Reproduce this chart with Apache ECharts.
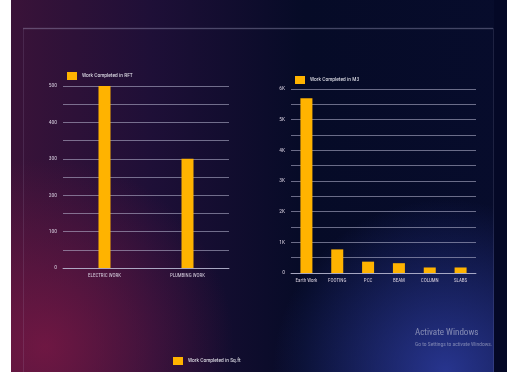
<!DOCTYPE html>
<html>
<head>
<meta charset="utf-8">
<style>
html,body{margin:0;padding:0;background:#fff;}
#c{width:507px;height:372px;}
</style>
<script src="https://cdn.jsdelivr.net/npm/echarts@6/dist/echarts.min.js"></script>
</head>
<body>
<div id="c"></div>
<script>
// Data
var rftCategories = ['ELECTRIC WORK', 'PLUMBING WORK'];
var rftValues = [500, 300];
var m3Categories = ['Earth Work', 'FOOTING', 'PCC', 'BEAM', 'COLUMN', 'SLABS'];
var m3Values = [5700, 770, 370, 320, 180, 180];
var sqftValues = [];
var rftTicks = [0, 100, 200, 300, 400, 500];
var m3Ticks = ['0', '1K', '2K', '3K', '4K', '5K', '6K'];

var chart = echarts.init(document.getElementById('c'));
var FONT = "'Liberation Sans Narrow', 'Roboto Condensed', Roboto, sans-serif";
var gridLine = {lineStyle: {color: 'rgba(190,190,215,0.55)', width: 1}};
var barColor = '#FFB300';

var option = {
  animation: false,
  graphic: [
    {type: 'rect', shape: {x: 0, y: 0, width: 507, height: 372}, style: {fill: {
      type: 'linear', x: 0, y: 0, x2: 1, y2: 0,
      colorStops: [
        {offset: 0, color: '#3c1339'},
        {offset: 0.3, color: '#1e0f37'},
        {offset: 0.6, color: '#060b27'},
        {offset: 1, color: '#070c2c'}
      ]}}, z: -10},
    {type: 'rect', shape: {x: 0, y: 120, width: 300, height: 252}, style: {fill: {
      type: 'radial', x: 0.15, y: 0.9, r: 0.75,
      colorStops: [
        {offset: 0, color: 'rgba(130,25,70,0.75)'},
        {offset: 1, color: 'rgba(130,25,70,0)'}
      ]}}, z: -9},
    {type: 'rect', shape: {x: 200, y: 180, width: 307, height: 192}, style: {fill: {
      type: 'radial', x: 0.8, y: 1, r: 0.9,
      colorStops: [
        {offset: 0, color: 'rgba(45,60,160,0.85)'},
        {offset: 1, color: 'rgba(45,60,160,0)'}
      ]}}, z: -9},
    {type: 'rect', shape: {x: 494, y: 0, width: 13, height: 372}, style: {fill: '#040826'}, z: -8},
    {type: 'rect', shape: {x: 23.5, y: 28.5, width: 470, height: 360}, style: {fill: 'none', stroke: 'rgba(200,200,230,0.12)', lineWidth: 1}, z: -7},
    {type: 'line', shape: {x1: 23, y1: 28.5, x2: 493, y2: 28.5}, style: {stroke: 'rgba(200,200,230,0.22)', lineWidth: 1.5}, z: -7},
    {type: 'rect', shape: {x: 0, y: 0, width: 11, height: 372}, style: {fill: '#ffffff'}, z: -6},
    {type: 'text', style: {x: 415, y: 328, text: 'Activate Windows', fill: 'rgba(255,255,255,0.45)', font: "9px " + FONT}},
    {type: 'text', style: {x: 415, y: 342, text: 'Go to Settings to activate Windows.', fill: 'rgba(255,255,255,0.4)', font: "5.5px " + FONT}}
  ],
  legend: [
    {data: ['Work Completed in RFT'], left: 62, top: 67, itemWidth: 10, itemHeight: 8, icon: 'rect',
     textStyle: {color: '#e6e6ee', fontSize: 5.5, fontFamily: FONT}},
    {data: ['Work Completed in M3'], left: 290, top: 71, itemWidth: 10, itemHeight: 8, icon: 'rect',
     textStyle: {color: '#e6e6ee', fontSize: 5.5, fontFamily: FONT}},
    {data: ['Work Completed in Sq.ft'], left: 168, top: 352, itemWidth: 10, itemHeight: 8, icon: 'rect',
     textStyle: {color: '#e6e6ee', fontSize: 5.5, fontFamily: FONT}}
  ],
  grid: [
    {left: 63, width: 166, top: 86, height: 182},
    {left: 291, width: 185, top: 89, height: 184},
    {left: 60, width: 400, top: 400, height: 100}
  ],
  xAxis: [
    {type: 'category', gridIndex: 0, data: rftCategories,
     axisLine: {lineStyle: {color: 'rgba(190,190,215,0.7)', width: 1}}, axisTick: {show: false},
     axisLabel: {color: '#d8d0e0', fontSize: 5, fontFamily: FONT, margin: 5, interval: 0}},
    {type: 'category', gridIndex: 1, data: m3Categories,
     axisLine: {lineStyle: {color: 'rgba(190,190,215,0.7)', width: 1}}, axisTick: {show: false},
     axisLabel: {color: '#d8d0e0', fontSize: 5, fontFamily: FONT, margin: 5, interval: 0, hideOverlap: false}},
    {type: 'category', gridIndex: 2, data: [], show: false}
  ],
  yAxis: [
    {type: 'value', gridIndex: 0, min: 0, max: 500, interval: 50,
     splitLine: gridLine, axisLine: {show: false}, axisTick: {show: false},
     axisLabel: {color: '#d8d0e0', fontSize: 5.5, fontFamily: FONT, margin: 6,
       formatter: function (v) { return rftTicks.indexOf(v) >= 0 ? String(v) : ''; }}},
    {type: 'value', gridIndex: 1, min: 0, max: 6000, interval: 500,
     splitLine: gridLine, axisLine: {show: false}, axisTick: {show: false},
     axisLabel: {color: '#d8d0e0', fontSize: 5.5, fontFamily: FONT, margin: 6,
       formatter: function (v) { return v % 1000 === 0 ? m3Ticks[v / 1000] : ''; }}},
    {type: 'value', gridIndex: 2, show: false}
  ],
  series: [
    {name: 'Work Completed in RFT', type: 'bar', xAxisIndex: 0, yAxisIndex: 0, data: rftValues,
     barWidth: 12, itemStyle: {color: barColor}},
    {name: 'Work Completed in M3', type: 'bar', xAxisIndex: 1, yAxisIndex: 1, data: m3Values,
     barWidth: 12, itemStyle: {color: barColor}},
    {name: 'Work Completed in Sq.ft', type: 'bar', xAxisIndex: 2, yAxisIndex: 2, data: sqftValues,
     itemStyle: {color: barColor}}
  ]
};
chart.setOption(option);
</script>
</body>
</html>
